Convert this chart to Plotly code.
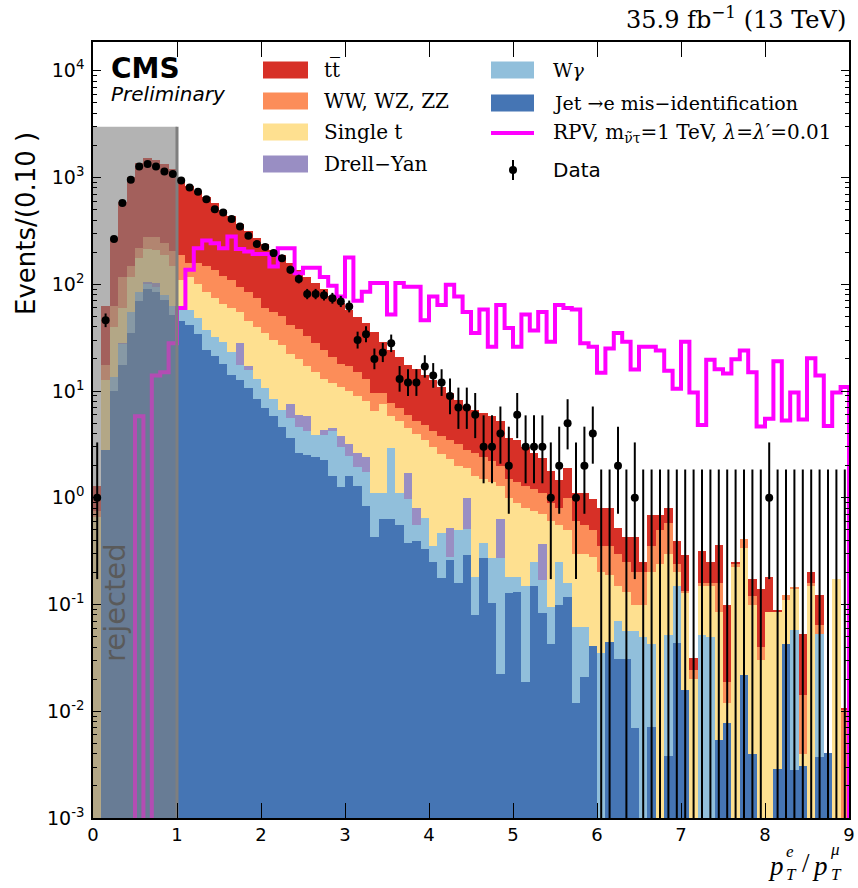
import math
import plotly.graph_objects as go

# ---------------- data ----------------
bin_lo = 0.0
bin_width = 0.1
n_bins = 90
edges = [round(bin_lo + bin_width * i, 3) for i in range(n_bins + 1)]
centers = [round(bin_lo + bin_width * (i + 0.5), 3) for i in range(n_bins)]

jet = [0, 2.8, 10, 17.6, 35, 70, 90, 85, 72, 52,
       45, 42, 34, 24, 21.5, 18, 14, 12.7, 10.6, 8.4,
       6.9, 5.8, 4.6, 3.6, 2.6, 2.5, 2.4, 2.25, 1.6, 1.27,
       1.6, 1.3, 0.83, 0.43, 0.63, 0.63, 0.55, 0.376, 0.39, 0.33,
       0.25, 0.177, 0.26, 0.16, 0.29, 0.08, 0.27, 0.103, 0.0224, 0.128,
       0.13, 0.019, 0.15, 0.083, 0.0425, 0.099, 0.117, 0.0119, 0.021, 0.041,
       0, 0.045, 0.031, 0.031, 0.0069, 0, 0.0071, 0, 0.0038, 0.044,
       0.0159, 0, 0, 0, 0.0054, 0.0077, 0, 0.022, 0.004, 0,
       0, 0.0029, 0.043, 0.0028, 0.0031, 0, 0.0037, 0.0041, 0, 0]

wgamma = [0, 0, 3.5, 10, 20, 15, 10, 10, 8, 10,
          18, 16, 14, 13, 10.5, 11, 9, 4.9, 5.1, 4.6,
          3.7, 2.6, 2.0, 2.0, 2.05, 1.7, 1.5, 1.65, 2.6, 1.73,
          0.85, 0.65, 0.92, 0.67, 0.47, 2.27, 0.55, 0.6, 0.17, 0.32,
          0.1, 0.29, 0.02, 0.34, 0.22, 0.1, 0.11, 0.167, 0.248, 0.052,
          0.05, 0.131, 0.1, 0.087, 0.0525, 0.151, 0.043, 0.05, 0.041, 0,
          0.035, 0, 0.039, 0.025, 0.049, 0.05, 0.036, 0, 0.048, 0.105,
          0, 0, 0.052, 0.05, 0, 0, 0, 0, 0, 0,
          0, 0, 0, 0.055, 0, 0, 0.0493, 0, 0, 0]

drellyan = [0, 0, 0, 0.5, 0, 0, 5, 8, 0, 0,
            0, 0, 0, 0, 0, 0, 0, 10.4, 1.3, 0,
            0, 0, 0, 2.0, 1.35, 1.6, 0, 0.4, 0.3, 0.8,
            0.75, 0.65, 0.65, 0, 0, 0, 0, 0.72, 0.24, 0,
            0, 0, 0.24, 0, 0.49, 0, 0, 0, 0.36, 0,
            0, 0, 0, 0.2, 0, 0, 0, 0, 0, 0,
            0, 0, 0, 0, 0, 0, 0, 0, 0, 0,
            0, 0, 0, 0, 0, 0, 0, 0, 0, 0,
            0, 0, 0, 0, 0, 0, 0, 0, 0, 0]

singletop = [0.66, 9.8, 26.5, 32, 63, 90, 110, 107, 110, 88,
             47, 59, 52, 48, 43, 36, 37, 27, 28, 27,
             24.4, 21.6, 20.4, 14.4, 14, 11.2, 11.1, 8.7, 7.5, 7.2,
             6.8, 6.4, 5.6, 5.4, 6.4, 3.0, 4.1, 2.8, 3.2, 2.85,
             2.65, 2.13, 1.78, 1.5, 0.9, 1.42, 1.12, 1.13, 0.67, 0.82,
             0.72, 0.65, 0.5, 0.33, 0.505, 0.3, 0.34, 0.238, 0.238, 0.239,
             0.165, 0.145, 0.08, 0.074, 0.044, 0.05, 0.157, 0.24, 0.248, 0.051,
             0.114, 0.02, 0.098, 0.1, 0.0796, 0.0043, 0.226, 0.318, 0.096, 0.03,
             0.085, 0.082, 0.067, 0.082, 0.0009, 0.15, 0, 0, 0.172, 0.0005]

diboson = [0.1, 5, 22, 58, 32, 43, 60, 65, 55, 53,
           80, 43, 60, 65, 60, 55, 50, 40, 40, 35,
           25, 25, 23, 20, 18, 16, 13, 11, 9, 7,
           7, 6, 5, 3.0, 2.1, 1.9, 1.8, 1.5, 1.2, 1.3,
           1.2, 1.2, 1.2, 1.2, 0.9, 1.0, 0.9, 0.8, 0.7, 0.5,
           0.5, 0.5, 0.45, 0.4, 0.3, 0.25, 0.5, 0.3, 0.25, 0.22,
           0.15, 0.16, 0.15, 0.12, 0.1, 0.1, 0.15, 0.26, 0.28, 0.04,
           0.003, 0.0043, 0.008, 0.01, 0.075, 0.007, 0.014, 0.07, 0.02, 0.01,
           0, 0, 0.013, 0.005, 0.0102, 0.01, 0.011, 0, 0, 0.0098]

ttbar = [0.54, 45, 203, 467, 870, 1162, 1265, 1195, 1085, 997,
         728, 677, 581, 506, 442, 372, 322, 272, 228, 196,
         178, 155, 139, 116, 99, 85, 75, 66, 56, 49,
         41, 34, 30, 26.5, 19.4, 16.2, 13.8, 11.6, 10.8, 9.4,
         8.4, 7.2, 6.1, 5.0, 4.4, 4.0, 3.8, 3.6, 3.2, 2.1,
         2.1, 1.7, 1.4, 1.25, 0.9, 0.67, 0.9, 0.5, 0.55, 0.48,
         0.45, 0.45, 0.22, 0.18, 0.23, 0.05, 0.34, 0.19, 0.22, 0.15,
         0.157, 0.0072, 0.162, 0.09, 0.2, 0.081, 0.005, 0, 0.052, 0.099,
         0.097, 0.004, 0, 0, 0.0388, 0.04, 0.059, 0, 0, 0.0005]

data_counts = [1, 46, 265, 577, 953, 1270, 1340, 1270, 1140, 1080,
               940, 806, 736, 628, 506, 471, 408, 348, 285, 238,
               223, 196, 175, 137, 112, 81, 81, 79, 74, 69,
               62, 30, 34, 20, 23, 28, 13, 12, 12, 17,
               14, 12, 9, 7, 7, 6, 3, 3, 4, 2,
               6, 3, 3, 3, 1, 2, 5, 1, 2, 4,
               0, 0, 2, 0, 1, 0, 0, 0, 0, 0,
               0, 0, 0, 0, 0, 0, 0, 0, 0, 0,
               1, 0, 0, 0, 0, 0, 0, 0, 0, 0]

rpv_signal = [0, 0, 0, 0, 0, 5.8, 0, 14, 15, 28,
              60, 137, 218, 257, 243, 218, 281, 214, 203, 192,
              192, 147, 218, 218, 127, 143, 143, 117, 97, 77,
              178, 70, 85, 103, 103, 52, 103, 95, 95, 46,
              77, 64, 99, 77, 55, 35, 58, 26, 64, 39,
              26, 52, 37, 55, 29, 64, 60, 58, 28, 26,
              14.8, 25, 35, 29, 15.9, 26, 26, 24, 15.5, 10.5,
              29, 9.7, 4.8, 19.6, 16, 14.6, 19.9, 24, 15, 4.65,
              5.5, 19, 5.3, 9.7, 5.4, 20.3, 14, 4.7, 9.7, 10.9]

y_tick_values = [1e-3, 1e-2, 1e-1, 1e0, 1e1, 1e2, 1e3, 1e4]
y_tick_labels = ["10<sup>-3</sup>", "10<sup>-2</sup>", "10<sup>-1</sup>", "10<sup>0</sup>",
                 "10<sup>1</sup>", "10<sup>2</sup>", "10<sup>3</sup>", "10<sup>4</sup>"]
x_tick_values = [0, 1, 2, 3, 4, 5, 6, 7, 8, 9]
rejected_x = [0.0, 1.0]
rejected_ymax = 3000

# Garwood 68% intervals for small counts
garwood_lo = {1: 0.173, 2: 0.708, 3: 1.367, 4: 2.086, 5: 2.840, 6: 3.620,
              7: 4.419, 8: 5.232, 9: 6.057, 10: 6.891}
garwood_hi = {0: 1.841, 1: 3.300, 2: 4.638, 3: 5.918, 4: 7.163, 5: 8.382,
              6: 9.584, 7: 10.77, 8: 11.95, 9: 13.11, 10: 14.27}

# ---------------- colours ----------------
C_TT = "#d73027"
C_VV = "#fc8d59"
C_ST = "#fee090"
C_DY = "#998ec3"
C_WG = "#91bfdb"
C_JET = "#4575b4"
C_RPV = "#ff00ff"

fig = go.Figure()

for name, vals, col in [("Jet→e mis-identification", jet, C_JET),
                        ("Wγ", wgamma, C_WG),
                        ("Drell-Yan", drellyan, C_DY),
                        ("Single t", singletop, C_ST),
                        ("WW, WZ, ZZ", diboson, C_VV),
                        ("tt", ttbar, C_TT)]:
    fig.add_trace(go.Bar(x=centers, y=vals, width=bin_width, name=name,
                         marker=dict(color=col, line=dict(width=0)),
                         showlegend=False, hoverinfo="skip"))

# RPV step line
FLOOR = 1e-6
rx, ry = [edges[0]], [FLOOR]
for i, v in enumerate(rpv_signal):
    vv = v if v > 0 else FLOOR
    rx += [edges[i], edges[i + 1]]
    ry += [vv, vv]
rx.append(edges[-1]); ry.append(FLOOR)
fig.add_trace(go.Scatter(x=rx, y=ry, mode="lines",
                         line=dict(color=C_RPV, width=4), showlegend=False, hoverinfo="skip"))

# rejected region (semi-transparent grey)
fig.add_trace(go.Scatter(x=[rejected_x[0], rejected_x[1], rejected_x[1], rejected_x[0], rejected_x[0]],
                         y=[1e-3, 1e-3, rejected_ymax, rejected_ymax, 1e-3],
                         mode="lines", fill="toself", fillcolor="rgba(128,128,128,0.6)",
                         line=dict(width=0), showlegend=False, hoverinfo="skip"))
fig.add_trace(go.Scatter(x=[rejected_x[1], rejected_x[1]], y=[1e-3, rejected_ymax], mode="lines",
                         line=dict(color="#7f7f7f", width=3), showlegend=False, hoverinfo="skip"))

# data: zero bins (only upper bar)
zx, zy = [], []
for c, n in zip(centers, data_counts):
    if n == 0:
        zx += [c, c, None]
        zy += [FLOOR, garwood_hi[0], None]
fig.add_trace(go.Scatter(x=zx, y=zy, mode="lines", line=dict(color="black", width=2),
                         showlegend=False, hoverinfo="skip"))

dx, dy_, eplus, eminus = [], [], [], []
for c, n in zip(centers, data_counts):
    if n > 0:
        dx.append(c); dy_.append(n)
        if n in garwood_hi:
            eplus.append(garwood_hi[n] - n); eminus.append(n - garwood_lo[n])
        else:
            s = math.sqrt(n + 0.25)
            eplus.append(0.5 + s); eminus.append(s - 0.5)
fig.add_trace(go.Scatter(x=dx, y=dy_, mode="markers",
                         marker=dict(color="black", size=8),
                         error_y=dict(type="data", symmetric=False, array=eplus, arrayminus=eminus,
                                      color="black", thickness=2, width=0),
                         showlegend=False, hoverinfo="skip"))

# ---------------- layout ----------------
L, R, T, B = 93, 849, 42, 818
W_, H_ = R - L, B - T


def PX(px):
    return (px - L) / W_


def PY(py):
    return (B - py) / H_


minor_vals = [k * 10.0 ** e for e in range(-3, 5) for k in range(2, 10)]

fig.update_layout(
    width=858, height=888,
    margin=dict(l=L, r=858 - R, t=T, b=888 - B, autoexpand=False),
    paper_bgcolor="white", plot_bgcolor="white",
    barmode="stack", bargap=0, showlegend=False,
    xaxis=dict(range=[0, 9], tickvals=x_tick_values, ticks="inside", ticklen=15, tickwidth=1.2,
               tickcolor="black", mirror="allticks", showline=True, linecolor="black", linewidth=1.5,
               showgrid=False, zeroline=False, automargin=False,
               tickfont=dict(family="DejaVu Sans", size=18, color="black")),
    yaxis=dict(type="log", range=[-3, 4.27], tickvals=y_tick_values, ticktext=y_tick_labels,
               ticks="inside", ticklen=8, tickwidth=1.2, tickcolor="black", mirror="allticks",
               showline=True, linecolor="black", linewidth=1.5, showgrid=False, zeroline=False,
               automargin=False, ticklabelstandoff=3,
               tickfont=dict(family="DejaVu Sans", size=19, color="black"),
               minor=dict(tickvals=minor_vals, ticks="inside", ticklen=4, tickcolor="black",
                          tickwidth=1, showgrid=False)),
)

ann = []


def text(t, px, py, size, family="DejaVu Serif", color="black", xanchor="center", yanchor="middle",
         angle=0):
    ann.append(dict(text=t, x=PX(px), y=PY(py), xref="paper", yref="paper", showarrow=False,
                    xanchor=xanchor, yanchor=yanchor, textangle=angle,
                    font=dict(family=family, size=size, color=color)))


text("35.9 fb<sup>\u22121</sup> (13 TeV)", 848, 18, 24, xanchor="right")
text("<b>CMS</b>", 109, 68, 28, family="DejaVu Sans", xanchor="left")
text("<i>Preliminary</i>", 109, 94, 20, family="DejaVu Sans", xanchor="left")
text("Events/(0.10 )", 26, 224, 26, family="DejaVu Sans", angle=-90)
text("rejected", 115, 603, 29, family="DejaVu Sans", color="#5a5a5a", angle=-90)

# x-axis title p_T^e / p_T^mu
text("<i>p</i>", 776, 866, 27, family="Liberation Serif")
text("<i>e</i>", 790, 851, 17, family="Liberation Serif")
text("<i>T</i>", 791, 874, 17, family="Liberation Serif")
text("/", 806, 863, 27, family="Liberation Serif")
text("<i>p</i>", 820, 866, 27, family="Liberation Serif")
text("<i>\u03bc</i>", 835, 849, 17, family="Liberation Serif")
text("<i>T</i>", 836, 874, 17, family="Liberation Serif")

# legend
shapes = []
left_items = [("tt\u0305", C_TT, 70), ("WW, WZ, ZZ", C_VV, 101), ("Single t", C_ST, 132),
              ("Drell\u2212Yan", C_DY, 164)]
for lab, col, yc in left_items:
    shapes.append(dict(type="rect", xref="paper", yref="paper", x0=PX(263), x1=PX(308),
                       y0=PY(yc + 8.5), y1=PY(yc - 8.5), fillcolor=col, line=dict(width=0)))
    text(lab, 322, yc, 20, xanchor="left")
right_items = [("W<i>\u03b3</i>", C_WG, 70), ("Jet \u2192e mis\u2212identification", C_JET, 103)]
for lab, col, yc in right_items:
    shapes.append(dict(type="rect", xref="paper", yref="paper", x0=PX(491), x1=PX(534),
                       y0=PY(yc + 8.5), y1=PY(yc - 8.5), fillcolor=col, line=dict(width=0)))
    text(lab, 551, yc, 19, xanchor="left")
shapes.append(dict(type="line", xref="paper", yref="paper", x0=PX(491), x1=PX(534),
                   y0=PY(133), y1=PY(133), line=dict(color=C_RPV, width=4)))
text("RPV, m<sub>\u03bd\u0303\u03c4</sub>=1 TeV, <i>\u03bb</i>=<i>\u03bb</i>\u2032=0.01", 551, 133, 20,
     xanchor="left")
shapes.append(dict(type="line", xref="paper", yref="paper", x0=PX(513), x1=PX(513),
                   y0=PY(160), y1=PY(180), line=dict(color="black", width=2)))
shapes.append(dict(type="circle", xref="paper", yref="paper", x0=PX(509), x1=PX(517),
                   y0=PY(174), y1=PY(166), fillcolor="black", line=dict(width=0)))
text("Data", 551, 170, 20, family="DejaVu Sans", xanchor="left")

fig.update_layout(annotations=ann, shapes=shapes)
fig.write_html("out.html")
